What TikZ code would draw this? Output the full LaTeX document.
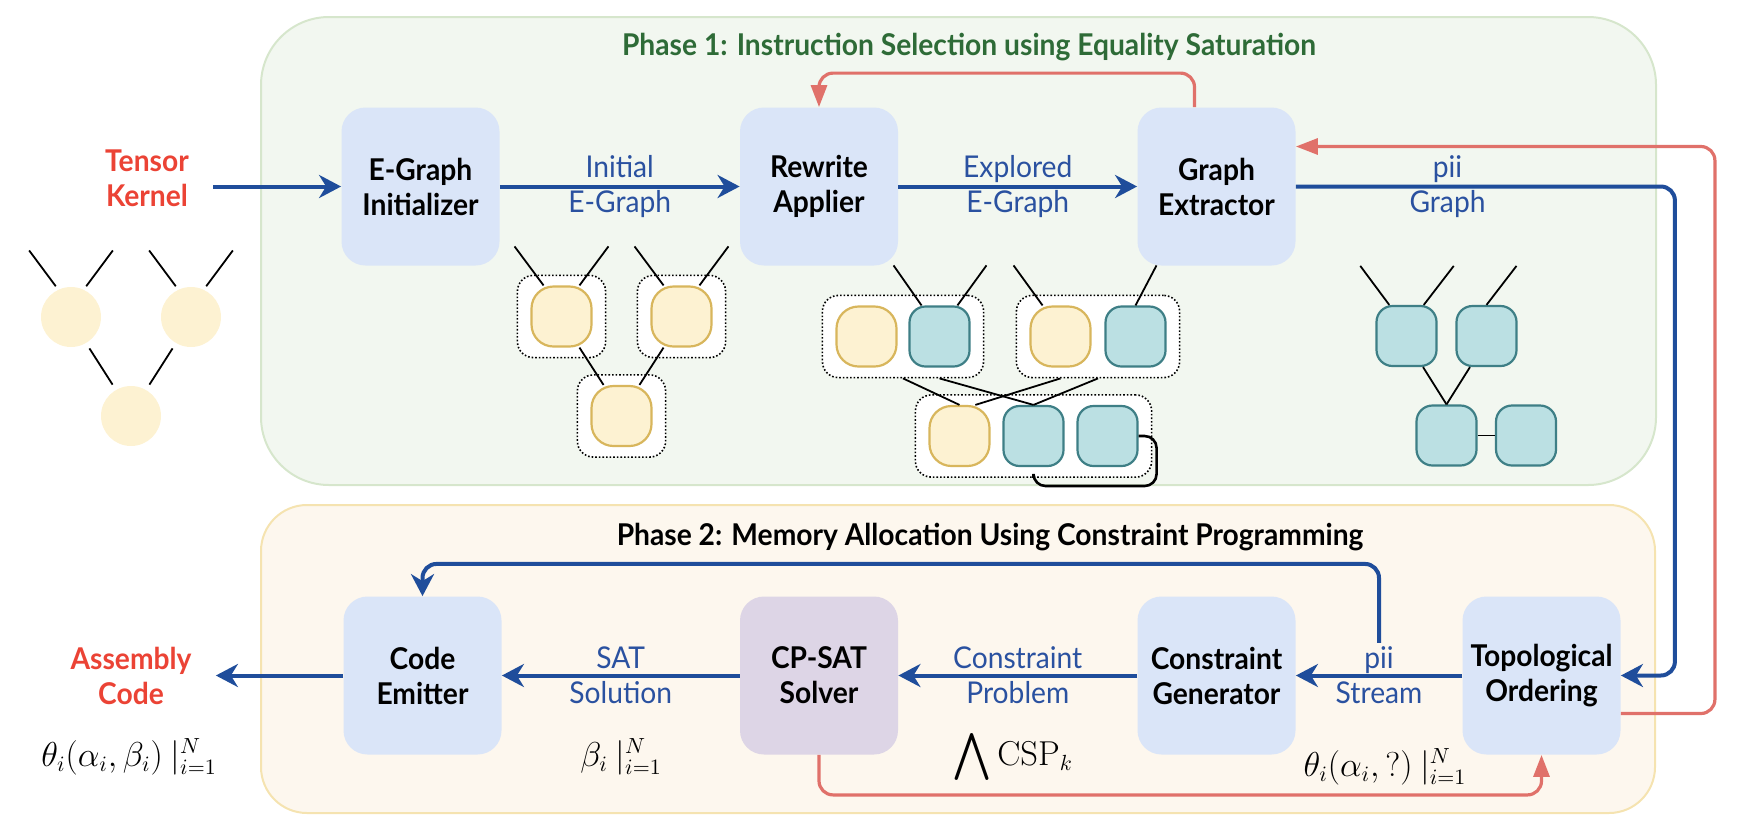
\documentclass[tikz,border=0pt]{standalone}
\usepackage[no-math]{fontspec}
\setmainfont{Lato}[FakeStretch=0.94]
\usepackage{amsmath}
\usepackage{amssymb}
\usetikzlibrary{positioning, calc, arrows.meta, fit, backgrounds}
\definecolor{arrblue}{HTML}{1F4D9B}
\definecolor{lblblue}{HTML}{2A51A0}
\definecolor{arrred}{HTML}{E0716A}
\definecolor{kred}{HTML}{EB4335}
\definecolor{titlegreen}{HTML}{2E6B37}
\definecolor{boxblue}{HTML}{DAE5F8}
\definecolor{satpurple}{HTML}{DDD5E6}
\definecolor{pafill}{HTML}{F2F7F0}
\definecolor{padraw}{HTML}{D6E6CC}
\definecolor{pbfill}{HTML}{FDF7EE}
\definecolor{pbdraw}{HTML}{F5E3B0}
\definecolor{yfill}{HTML}{FDF2D2}
\definecolor{ydraw}{HTML}{D8B65C}
\definecolor{tfill}{HTML}{BBE0E3}
\definecolor{tdraw}{HTML}{3E7F86}

\begin{document}
\begin{tikzpicture}[x=0.5pt, y=-0.5pt,
    font=\fontsize{15}{17.5}\selectfont,
    stage/.style={fill=boxblue, rounded corners=12pt, minimum width=79pt, minimum height=79pt, inner sep=2pt, align=center, font=\fontsize{15}{17.5}\selectfont\bfseries},
    io/.style={align=center, text=kred, inner xsep=12pt, font=\fontsize{15}{17.5}\selectfont\bfseries},
    lbl/.style={align=center, text=lblblue, inner sep=1pt},
    ttl/.style={font=\fontsize{15}{17.5}\selectfont\bfseries},
    fml/.style={font=\fontsize{16}{19}\selectfont, inner sep=1pt},
    blarr/.style={draw=arrblue, line width=2pt, -{Stealth[length=11pt,width=11.5pt,inset=3.5pt]}},
    rarr/.style={draw=arrred, line width=1.6pt, rounded corners=7pt, -{Triangle[length=11pt,width=8pt]}},
    ynode/.style={draw=ydraw, fill=yfill, line width=1.1pt, rounded corners=11pt, minimum width=30pt, minimum height=30pt, inner sep=0pt},
    tnode/.style={draw=tdraw, fill=tfill, line width=1.1pt, rounded corners=8pt, minimum width=30pt, minimum height=30pt, inner sep=0pt},
    grp/.style={draw, densely dotted, line width=0.8pt, fill=white, rounded corners=8pt, inner xsep=6.5pt, inner ysep=5pt},
    leaf/.style={circle, fill=yfill, minimum size=30pt, inner sep=0pt},
    wire/.style={line width=0.9pt},
  ]
  \useasboundingbox (0,0) rectangle (1738,836);

  \begin{scope}[on background layer]
    \draw[draw=padraw, fill=pafill, line width=1pt, rounded corners=34pt] (261,17) rectangle (1656,485);
    \draw[draw=pbdraw, fill=pbfill, line width=1pt, rounded corners=23pt] (261,505) rectangle (1655,813);
  \end{scope}

  \node[ttl, text=titlegreen] (T1) at (969,47) {Phase 1: Instruction Selection using Equality Saturation};
  \node[ttl] (T2) at (990,537) {Phase 2: Memory Allocation Using Constraint Programming};

  \node[stage] (EGI) at (420.5,186.5) {E-Graph\\Initializer};
  \node[stage] (RWA) at (819,186.5) {Rewrite\\Applier};
  \node[stage] (GEX) at (1216.5,186.5) {Graph\\Extractor};
  \node[stage] (CEM) at (422.5,675.5) {Code\\Emitter};
  \node[stage, fill=satpurple] (CPS) at (819,675.5) {CP-SAT\\Solver};
  \node[stage] (CGN) at (1216.5,675.5) {Constraint\\Generator};
  \node[stage] (TOP) at (1541.5,675.5) {Topological\\Ordering};

  \node[io] (TK) at (147,178) {Tensor\\Kernel};
  \node[io] (AC) at (131,676) {Assembly\\Code};

  \node[fml] (thA) at (129,757) {$\theta_i(\alpha_i,\beta_i)\ |_{i=1}^{N}$};
  \node[fml] (bet) at (621,757) {$\beta_i\ |_{i=1}^{N}$};
  \node[fml, font=\fontsize{23.5}{26}\selectfont, inner sep=0pt] (wdg) at (972.5,756.5) {$\bigwedge$};
  \node[fml, anchor=base west, inner sep=0pt] (csp) at (997,765) {$\mathrm{CSP}_k$};
  \node[fml] (thB) at (1385,767) {$\theta_i(\alpha_i,?)\ |_{i=1}^{N}$};

  \draw[blarr] (TK.east |- EGI) -- (EGI.west);
  \draw[blarr] (EGI.east) -- node[lbl] (lInit) {Initial\\E-Graph} (RWA.west);
  \draw[blarr] (RWA.east) -- node[lbl] (lExp) {Explored\\E-Graph} (GEX.west);
  \draw[blarr, rounded corners=7pt] (GEX.east) -| node[lbl, pos=0.2] (lPii) {pii\\Graph} ([xshift=27pt]TOP.east) -- (TOP.east);
  \draw[blarr] (TOP.west) -- node[lbl] (lStream) {pii\\Stream} (CGN.east);
  \draw[blarr] (CGN.west) -- node[lbl] (lProb) {Constraint\\Problem} (CPS.east);
  \draw[blarr] (CPS.west) -- node[lbl] (lSol) {SAT\\Solution} (CEM.east);
  \draw[blarr] (CEM.west) -- (AC.east |- CEM);
  \draw[blarr, rounded corners=7pt] (lStream.north) -- ++(0,-79) -| (CEM.north);

  \draw[rarr] ([xshift=-11pt]GEX.north) -- ++(0,-34) -| (RWA.north);
  \draw[rarr] ([yshift=-19pt]TOP.east) -- ++(94,0) |- ([yshift=20pt]GEX.east);
  \draw[rarr] (CPS.south) -- ++(0,40) -| (TOP.south);

  \node[leaf] (K1) at (71,317) {};
  \node[leaf] (K2) at (191,317) {};
  \node[leaf] (K3) at (131,416) {};
  \draw[wire, shorten <=2pt] (K1.115) -- ++(-29,-39);
  \draw[wire, shorten <=2pt] (K1.65) -- ++(29,-39);
  \draw[wire, shorten <=2pt] (K2.115) -- ++(-29,-39);
  \draw[wire, shorten <=2pt] (K2.65) -- ++(29,-39);
  \draw[wire, shorten <=3pt, shorten >=3pt] (K1.-60) -- (K3.120);
  \draw[wire, shorten <=3pt, shorten >=3pt] (K2.-120) -- (K3.60);

  \node[ynode] (A) at (561.5,316.5) {};
  \node[ynode] (B) at (681.5,316.5) {};
  \node[ynode] (C) at (621.5,416) {};
  \draw[wire] (A.120) -- ++(-29,-39);
  \draw[wire] (A.60) -- ++(29,-39);
  \draw[wire] (B.120) -- ++(-29,-39);
  \draw[wire] (B.60) -- ++(29,-39);
  \draw[wire] (A.-60) -- (C.120);
  \draw[wire] (B.-120) -- (C.60);

  \node[ynode] (Y1) at (866.5,336.5) {};
  \node[tnode] (T1) at (939.5,336.5) {};
  \node[ynode] (Y2) at (1060.5,336.5) {};
  \node[tnode] (T2) at (1135.5,336.5) {};
  \node[ynode] (Y3) at (959.5,436) {};
  \node[tnode] (T3) at (1033.5,436) {};
  \node[tnode] (T4) at (1107.5,436) {};

  \begin{scope}[on background layer]
    \node[grp, fit=(A)] (GA) {};
    \node[grp, fit=(B)] (GB) {};
    \node[grp, fit=(C)] (GC) {};
    \node[grp, fit=(Y1) (T1)] (G1) {};
    \node[grp, fit=(Y2) (T2)] (G2) {};
    \node[grp, fit=(Y3) (T3) (T4)] (G3) {};
  \end{scope}

  \draw[wire] (T1.120) -- ++(-28,-40);
  \draw[wire] (T1.60) -- ++(29,-40);
  \draw[wire] (Y2.120) -- ++(-29,-40);
  \draw[wire] (T2.north) -- ++(21,-40);
  \draw[wire] (G1.south) -- (Y3.north);
  \draw[wire] (G1.south -| T1) -- (T3.north);
  \draw[wire] (G2.south -| Y2) -- (Y3.63);
  \draw[wire] (G2.south) -- (T3.north);
  \draw[line width=1.3pt, rounded corners=6pt] (T4.east) -| ++(18,50) -| (G3.south -| T3);

  \node[tnode] (P) at (1406.5,336) {};
  \node[tnode] (Q) at (1486.5,336) {};
  \node[tnode] (R) at (1446.5,435.5) {};
  \node[tnode] (S) at (1526,435.5) {};
  \draw[wire] (P.119) -- ++(-29,-39);
  \draw[wire] (P.61) -- ++(30,-39);
  \draw[wire] (Q.north) -- ++(30,-39);
  \draw[wire] (P.-62) -- (R.north);
  \draw[wire] (Q.-118) -- (R.north);
  \draw[wire] (R) -- (S);
\end{tikzpicture}
\end{document}
